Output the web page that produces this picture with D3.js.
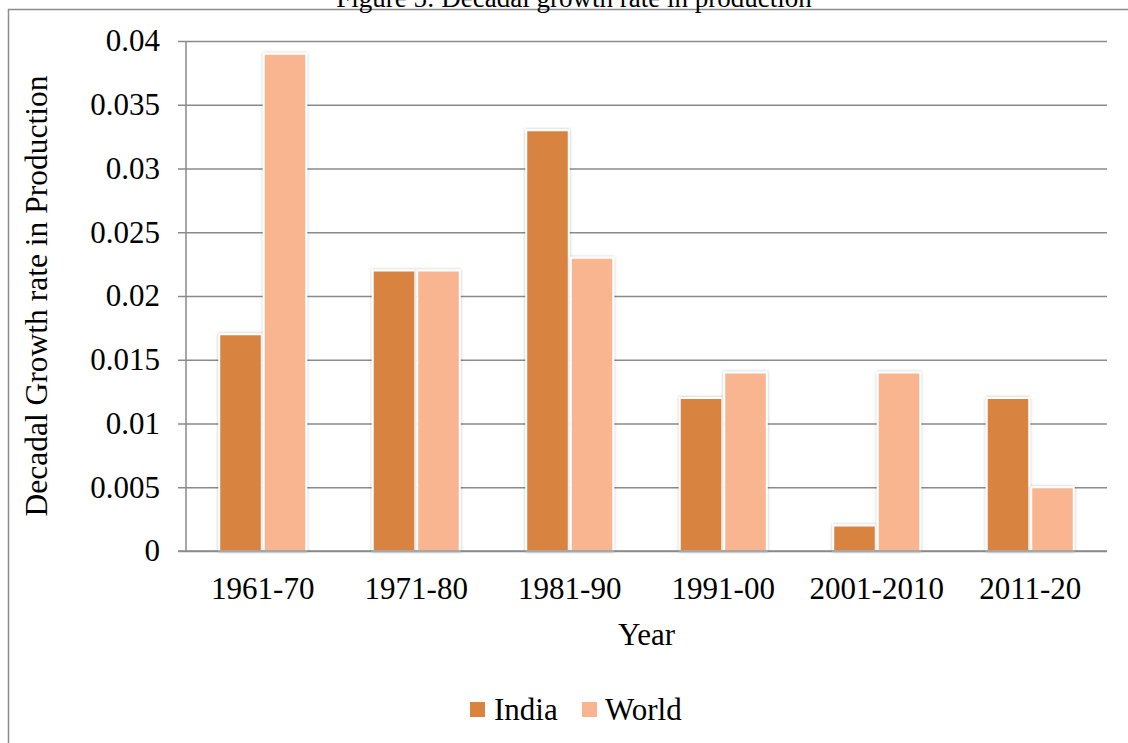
<!DOCTYPE html>
<html>
<head>
<meta charset="utf-8">
<script src="https://cdn.jsdelivr.net/npm/d3@7"></script>
<style>
  html, body { margin: 0; padding: 0; background: #fff; }
  svg { display: block; font-family: "Liberation Serif", "Times New Roman", serif; }
</style>
</head>
<body>
<svg id="chart" width="1128" height="743"></svg>
<script>
// Decadal growth rate in production, India vs World
const categories = ["1961-70", "1971-80", "1981-90", "1991-00", "2001-2010", "2011-20"];
const seriesNames = ["India", "World"];
const indiaValues = [0.017, 0.022, 0.033, 0.012, 0.002, 0.012];
const worldValues = [0.039, 0.022, 0.023, 0.014, 0.014, 0.005];
const yTicks = [0, 0.005, 0.01, 0.015, 0.02, 0.025, 0.03, 0.035, 0.04];
const yTickLabels = ["0", "0.005", "0.01", "0.015", "0.02", "0.025", "0.03", "0.035", "0.04"];
const colors = { India: "#D9833F", World: "#F8B58F" };

const FONT = "Liberation Serif, Times New Roman, serif";
const svg = d3.select("#chart");
const plot = { left: 186, right: 1107, top: 41, bottom: 551 };

// soft shadow around the bars
const defs = svg.append("defs");
const f = defs.append("filter").attr("id", "barShadow")
  .attr("x", "-20%").attr("y", "-10%").attr("width", "140%").attr("height", "120%");
f.append("feDropShadow").attr("dx", 0).attr("dy", 0).attr("stdDeviation", 1.8)
  .attr("flood-color", "#000").attr("flood-opacity", 0.28);

// outer frame
svg.append("rect")
  .attr("x", 8.5).attr("y", 9.5).attr("width", 1140).attr("height", 760)
  .attr("fill", "none").attr("stroke", "#8c8c8c").attr("stroke-width", 1.5);

// figure caption sitting on the frame's top edge
svg.append("text")
  .attr("x", 574).attr("y", 7)
  .attr("text-anchor", "middle")
  .attr("font-size", 27)
  .attr("fill", "#000")
  .text("Figure 5: Decadal growth rate in production");

const y = d3.scaleLinear().domain([0, 0.04]).range([plot.bottom, plot.top]);
const x0 = d3.scaleBand().domain(categories).range([plot.left, plot.right])
  .paddingInner(0.42).paddingOuter(0.21);
const x1 = d3.scaleBand().domain(seriesNames).range([0, x0.bandwidth()]);

// gridlines + y axis labels
const yAxis = d3.axisLeft(y)
  .tickValues(yTicks)
  .tickFormat((d, i) => yTickLabels[i])
  .tickSize(-(plot.right - plot.left))
  .tickPadding(26);
const gy = svg.append("g").attr("transform", `translate(${plot.left},0)`).call(yAxis);
gy.select(".domain").remove();
gy.selectAll(".tick line").attr("stroke", "#8a8a8a").attr("stroke-width", 1.5)
  .attr("x1", -8);
gy.selectAll(".tick text")
  .attr("font-family", FONT)
  .attr("font-size", 31).attr("fill", "#000");

// vertical axis line
svg.append("line")
  .attr("x1", plot.left).attr("x2", plot.left)
  .attr("y1", plot.top).attr("y2", plot.bottom)
  .attr("stroke", "#8a8a8a").attr("stroke-width", 1.5);

// bars
const rows = categories.map((c, i) => ({ cat: c, India: indiaValues[i], World: worldValues[i] }));
const groups = svg.append("g").selectAll("g").data(rows).join("g")
  .attr("transform", d => `translate(${x0(d.cat)},0)`);
groups.selectAll("rect")
  .data(d => seriesNames.map(s => ({ s, v: d[s] })))
  .join("rect")
  .attr("x", d => x1(d.s) + 1)
  .attr("width", x1.bandwidth() - 2)
  .attr("y", d => y(d.v))
  .attr("height", d => y(0) - y(d.v))
  .attr("fill", d => colors[d.s])
  .attr("stroke", "#fff").attr("stroke-width", 2)
  .attr("filter", "url(#barShadow)");

// x axis line
svg.append("line")
  .attr("x1", plot.left - 8).attr("x2", plot.right)
  .attr("y1", plot.bottom).attr("y2", plot.bottom)
  .attr("stroke", "#8a8a8a").attr("stroke-width", 1.5);

// category labels
const xAxis = d3.axisBottom(x0).tickSize(0).tickPadding(26);
const gx = svg.append("g").attr("transform", `translate(0,${plot.bottom})`).call(xAxis);
gx.select(".domain").remove();
gx.selectAll(".tick text")
  .attr("font-family", FONT)
  .attr("font-size", 31).attr("fill", "#000");

// axis titles
svg.append("text")
  .attr("x", (plot.left + plot.right) / 2).attr("y", 645)
  .attr("text-anchor", "middle").attr("font-size", 31).attr("fill", "#000")
  .text("Year");
svg.append("text")
  .attr("transform", `translate(47,${(plot.top + plot.bottom) / 2}) rotate(-90)`)
  .attr("text-anchor", "middle").attr("font-size", 31.5).attr("fill", "#000")
  .text("Decadal Growth rate in Production");

// legend
const legend = svg.append("g");
const legendItems = [
  { name: "India", sx: 470, tx: 494 },
  { name: "World", sx: 582, tx: 605 }
];
legendItems.forEach(it => {
  legend.append("rect").attr("x", it.sx).attr("y", 702).attr("width", 15).attr("height", 15)
    .attr("fill", colors[it.name]);
  legend.append("text").attr("x", it.tx).attr("y", 720)
    .attr("font-size", 31).attr("fill", "#000").text(it.name);
});
</script>
</body>
</html>
